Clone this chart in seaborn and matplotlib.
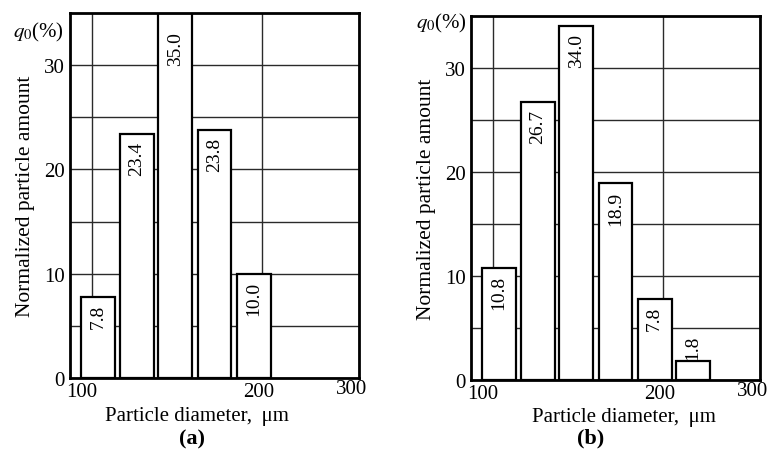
import numpy as np
import pandas as pd
import seaborn as sns
import matplotlib.pyplot as plt
from matplotlib.transforms import ScaledTranslation

# ---- data ----
diam_a = [103.5, 126.2, 149.0, 172.0, 195.0]
amount_a = [7.8, 23.4, 35.0, 23.8, 10.0]
diam_b = [103.5, 126.2, 149.0, 172.0, 195.0, 217.6]
amount_b = [10.8, 26.7, 34.0, 18.9, 7.8, 1.8]
xtick_labels = ["100", "200", "300"]
ytick_values = [0, 10, 20, 30]
ygrid_minor = [5, 15, 25]
xlabel = "Particle diameter, \u2009\u03bcm"
ylabel = "Normalized particle amount"
panel_tags = ["(a)", "(b)"]

sns.set_theme(style="white")
plt.rcParams["font.family"] = ["Liberation Serif", "DejaVu Serif"]
plt.rcParams["mathtext.fontset"] = "stix"
plt.rcParams["text.color"] = "black"
plt.rcParams["axes.labelcolor"] = "black"

W, H = 768, 452
fig = plt.figure(figsize=(W / 100, H / 100), dpi=100)
ax_a = fig.add_axes([70 / W, 1 - 379 / H, 289 / W, 365 / H])
ax_b = fig.add_axes([471 / W, 1 - 381 / H, 289 / W, 364 / H])

XMIN, XMAX = 87, 257


def draw(ax, diam, amount, xlab_pos):
    df = pd.DataFrame({"d": diam, "q": amount})
    sns.barplot(data=df, x="d", y="q", native_scale=True, width=0.88,
                color="white", edgecolor="black", linewidth=1.6,
                errorbar=None, ax=ax, zorder=3)
    ax.set_xlim(XMIN, XMAX)
    ax.set_ylim(0, 35)
    ax.set_yticks(ytick_values)
    ax.set_yticks(ygrid_minor, minor=True)
    ax.set_yticklabels([str(v) for v in ytick_values])
    ax.set_xticks([100, 200, XMAX])
    ax.set_xticklabels(xtick_labels)
    ax.grid(True, which="both", axis="y", color="#2a2a2a", lw=1.0, zorder=0)
    ax.grid(True, which="major", axis="x", color="#2a2a2a", lw=1.0, zorder=0)
    ax.set_axisbelow(True)
    ax.tick_params(axis="both", which="both", length=0, labelsize=15,
                   colors="black")
    ax.tick_params(axis="x", pad=3)
    ax.tick_params(axis="y", pad=4)
    for sp in ax.spines.values():
        sp.set_visible(True)
        sp.set_linewidth(2.0)
        sp.set_color("black")
        sp.set_zorder(5)
    offs = [(-10, 0), (-3, 0), (-7, 3)]
    for lab, (dx, dy) in zip(ax.get_xticklabels(), offs):
        lab.set_transform(lab.get_transform() +
                          ScaledTranslation(dx / 100, dy / 100, fig.dpi_scale_trans))
    # value labels
    ymax = ax.get_ylim()[1]
    for d, q in zip(diam, amount):
        if q >= 5:
            off = -13 if q >= ymax else -5
            ax.annotate(f"{q:.1f}", (d, q), xytext=(0, off),
                        textcoords="offset points", rotation=90,
                        ha="center", va="top", fontsize=14, zorder=6)
        else:
            ax.annotate(f"{q:.1f}", (d, q), xytext=(0, 2),
                        textcoords="offset points", rotation=90,
                        ha="center", va="bottom", fontsize=14, zorder=6)
    ax.set_xlabel(xlabel, fontsize=15)
    ax.xaxis.set_label_coords(xlab_pos[0], xlab_pos[1])
    ax.xaxis.label.set_va("center")
    ax.set_ylabel(ylabel, fontsize=15.5)
    ax.yaxis.set_label_coords(-0.155, 0.5)
    ax.yaxis.label.set_va("center")
    ax.yaxis.label.set_ha("center")


draw(ax_a, diam_a, amount_a, (0.439, -0.104))
draw(ax_b, diam_b, amount_b, (0.529, -0.099))

fig.text(13 / W, 1 - 32 / H, "$q_0$(%)", fontsize=15, ha="left", va="center")
fig.text(416 / W, 1 - 23 / H, "$q_0$(%)", fontsize=15, ha="left", va="center")
fig.text(192 / W, 1 - 439 / H, panel_tags[0], fontsize=16, fontweight="bold",
         ha="center", va="center")
fig.text(591 / W, 1 - 438 / H, panel_tags[1], fontsize=16, fontweight="bold",
         ha="center", va="center")

fig.savefig("out.png", dpi=100)
